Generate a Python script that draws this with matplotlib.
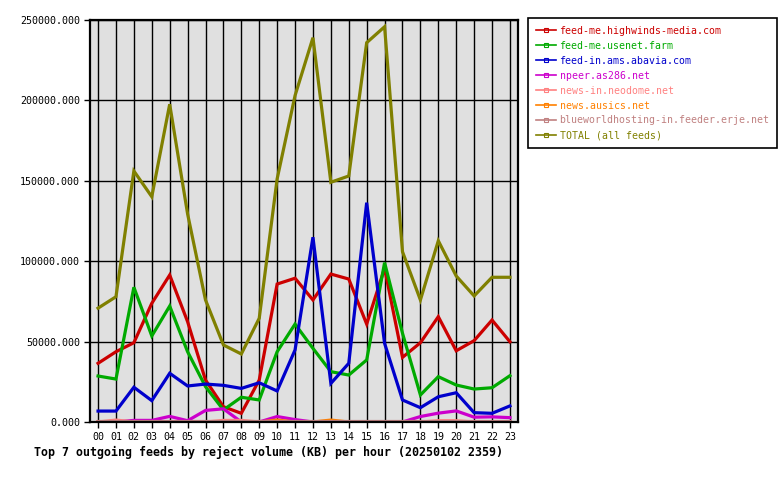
import matplotlib
matplotlib.use("Agg")
import matplotlib.pyplot as plt

hours = ["%02d" % h for h in range(24)]

highwinds = [36500, 43700, 49300, 73800, 91400, 62400, 26100, 9500, 5400, 26100, 85800, 89400,
             75900, 92000, 88900, 60900, 95600, 40200, 49300, 65500, 44300, 50600, 63400, 49900]
usenet_farm = [28600, 26700, 83800, 53500, 72100, 43700, 22000, 7500, 15400, 13700, 43700, 60900,
               45800, 31300, 29200, 38600, 99100, 55200, 16800, 28200, 23000, 20500, 21300, 28800]
abavia = [6800, 6800, 21600, 13300, 30300, 22400, 23600, 22800, 20900, 24400, 19300, 44800,
          114900, 24000, 36500, 136400, 48900, 13700, 8900, 15700, 18200, 5800, 5400, 10000]
npeer = [0, 0, 1000, 1000, 3500, 800, 7200, 8200, 0, 0, 3400, 1500,
         0, 0, 0, 0, 0, 0, 3400, 5500, 6900, 3000, 3200, 2700]
neodome = [0, 1200, 0, 0, 0, 0, 0, 1000, 1000, 0, 0, 0,
           0, 0, 0, 0, 0, 0, 0, 800, 800, 0, 0, 0]
ausics = [0, 0, 0, 0, 0, 0, 0, 0, 0, 0, 1200, 0,
          0, 1200, 0, 0, 0, 0, 0, 0, 0, 0, 0, 0]
blueworld = [900] * 24
total = [70800, 77900, 156100, 140100, 197600, 129400, 75900, 47900, 42300, 64500, 151200, 203000,
         239000, 149100, 153000, 235900, 245800, 105900, 75900, 112700, 90800, 78400, 90000, 90000]

series = [
    ("feed-me.highwinds-media.com", highwinds, "#cc0000"),
    ("feed-me.usenet.farm", usenet_farm, "#00aa00"),
    ("feed-in.ams.abavia.com", abavia, "#0000cc"),
    ("npeer.as286.net", npeer, "#cc00cc"),
    ("news-in.neodome.net", neodome, "#ff8080"),
    ("news.ausics.net", ausics, "#ff8000"),
    ("blueworldhosting-in.feeder.erje.net", blueworld, "#c08080"),
    ("TOTAL (all feeds)", total, "#808000"),
]

plt.rcParams['font.family'] = ['DejaVu Sans Mono']

fig = plt.figure(figsize=(7.8, 4.8), dpi=100)
ax = fig.add_axes([90 / 780, 58 / 480, 428 / 780, 402 / 480])
ax.set_facecolor("#e0e0e0")

x = list(range(24))
handles = []
for name, vals, col in series:
    ax.plot(x, vals, color=col, lw=2.3, solid_joinstyle="miter")
    handles.append(plt.Line2D([], [], color=col, lw=1.2, marker="s", markersize=2.5,
                              markerfacecolor="none", markeredgecolor=col, markeredgewidth=0.8))

ax.set_xlim(-0.45, 23.45)
ax.set_ylim(0, 250000)
ax.set_xticks(x)
ax.set_xticklabels(hours, fontsize=7.2)
ax.set_yticks(range(0, 250001, 50000))
ax.set_yticklabels(["%.3f" % v for v in range(0, 250001, 50000)], fontsize=7.2)
ax.grid(True, color="black", lw=1)
ax.set_axisbelow(True)
ax.tick_params(direction="out", length=4, width=1, color="black", pad=3)
for s in ax.spines.values():
    s.set_linewidth(1.6)

leg = fig.legend(handles, [s[0] for s in series], loc="upper left",
                 bbox_to_anchor=(528 / 780, 1 - 18 / 480), fontsize=7.1,
                 frameon=True, fancybox=False, edgecolor="black", framealpha=1,
                 handlelength=2.0, handletextpad=0.4, labelspacing=0.5,
                 borderpad=0.8, borderaxespad=0)
leg.get_frame().set_linewidth(1.2)
for t, s in zip(leg.get_texts(), series):
    t.set_color(s[2])

fig.text(34 / 780, 1 - 452 / 480, "Top 7 outgoing feeds by reject volume (KB) per hour (20250102 2359)",
         fontsize=8.4, fontweight="bold", va="center", ha="left")

fig.savefig("out.png", dpi=100)
